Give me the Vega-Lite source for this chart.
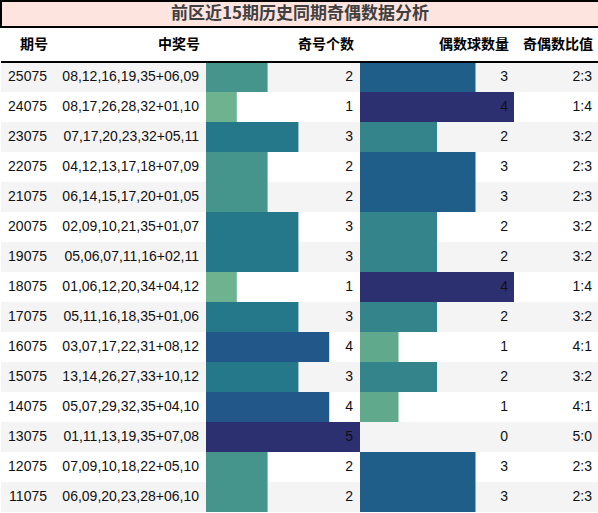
{
  "$schema": "https://vega.github.io/schema/vega-lite/v6.json",
  "padding": 0,
  "spacing": 10,
  "config": {
    "view": {"stroke": null},
    "font": "Liberation Sans, Noto Sans CJK SC, sans-serif",
    "title": {"font": "Noto Sans CJK SC, sans-serif", "fontSize": 14, "fontWeight": "bold", "color": "#000000", "anchor": "end", "offset": 9},
    "concat": {"spacing": 0}
  },
  "vconcat": [
    {
      "width": 598,
      "height": 26,
      "data": {"values": [{"title": "前区近15期历史同期奇偶数据分析"}]},
      "layer": [
        {"mark": {"type": "rect", "fill": "#fde4df", "stroke": "#000000", "strokeWidth": 2}, "encoding": {}},
        {"mark": {"type": "text", "fontSize": 17, "fontWeight": "bold", "color": "#404040", "font": "Noto Sans CJK SC, sans-serif", "baseline": "middle"}, "encoding": {"text": {"field": "title"}}}
      ]
    },
    {
      "data": {"values": [
        {"period": "25075", "nums": "08,12,16,19,35+06,09", "odd": 2, "even": 3, "ratio": "2:3"},
        {"period": "24075", "nums": "08,17,26,28,32+01,10", "odd": 1, "even": 4, "ratio": "1:4"},
        {"period": "23075", "nums": "07,17,20,23,32+05,11", "odd": 3, "even": 2, "ratio": "3:2"},
        {"period": "22075", "nums": "04,12,13,17,18+07,09", "odd": 2, "even": 3, "ratio": "2:3"},
        {"period": "21075", "nums": "06,14,15,17,20+01,05", "odd": 2, "even": 3, "ratio": "2:3"},
        {"period": "20075", "nums": "02,09,10,21,35+01,07", "odd": 3, "even": 2, "ratio": "3:2"},
        {"period": "19075", "nums": "05,06,07,11,16+02,11", "odd": 3, "even": 2, "ratio": "3:2"},
        {"period": "18075", "nums": "01,06,12,20,34+04,12", "odd": 1, "even": 4, "ratio": "1:4"},
        {"period": "17075", "nums": "05,11,16,18,35+01,06", "odd": 3, "even": 2, "ratio": "3:2"},
        {"period": "16075", "nums": "03,07,17,22,31+08,12", "odd": 4, "even": 1, "ratio": "4:1"},
        {"period": "15075", "nums": "13,14,26,27,33+10,12", "odd": 3, "even": 2, "ratio": "3:2"},
        {"period": "14075", "nums": "05,07,29,32,35+04,10", "odd": 4, "even": 1, "ratio": "4:1"},
        {"period": "13075", "nums": "01,11,13,19,35+07,08", "odd": 5, "even": 0, "ratio": "5:0"},
        {"period": "12075", "nums": "07,09,10,18,22+05,10", "odd": 2, "even": 3, "ratio": "2:3"},
        {"period": "11075", "nums": "06,09,20,23,28+06,10", "odd": 2, "even": 3, "ratio": "2:3"}
      ]},
      "transform": [{"window": [{"op": "row_number", "as": "idx"}]}],
      "spacing": 0,
      "bounds": "flush",
      "resolve": {"scale": {"color": "independent", "x": "independent", "y": "independent"}},
      "hconcat": [
        {
          "width": 50, "height": 450,
          "title": {"text": "期号", "dx": -4},
          "layer": [
            {"mark": "rect", "encoding": {"y": {"field": "period", "type": "nominal", "sort": null, "axis": null, "scale": {"paddingInner": 0, "paddingOuter": 0}}, "fill": {"condition": {"test": "datum.idx % 2 == 1", "value": "#f4f4f4"}, "value": "#ffffff"}}},
            {"mark": {"type": "rule", "color": "#000000", "strokeWidth": 2}, "encoding": {"y": {"value": 0}}},
            {"mark": {"type": "text", "align": "right", "dx": -4, "fontSize": 14, "color": "#111111"}, "encoding": {"y": {"field": "period", "type": "nominal", "sort": null, "axis": null}, "x": {"value": "width"}, "text": {"field": "period"}}}
          ]
        },
        {
          "width": 155, "height": 450,
          "title": {"text": "中奖号", "dx": -7},
          "layer": [
            {"mark": "rect", "encoding": {"y": {"field": "period", "type": "nominal", "sort": null, "axis": null, "scale": {"paddingInner": 0, "paddingOuter": 0}}, "fill": {"condition": {"test": "datum.idx % 2 == 1", "value": "#f4f4f4"}, "value": "#ffffff"}}},
            {"mark": {"type": "rule", "color": "#000000", "strokeWidth": 2}, "encoding": {"y": {"value": 0}}},
            {"mark": {"type": "text", "align": "right", "dx": -7, "fontSize": 14, "color": "#111111"}, "encoding": {"y": {"field": "period", "type": "nominal", "sort": null, "axis": null}, "x": {"value": "width"}, "text": {"field": "nums"}}}
          ]
        },
        {
          "width": 154, "height": 450,
          "title": {"text": "奇号个数", "dx": -7},
          "layer": [
            {"mark": "rect", "encoding": {"y": {"field": "period", "type": "nominal", "sort": null, "axis": null, "scale": {"paddingInner": 0, "paddingOuter": 0}}, "fill": {"condition": {"test": "datum.idx % 2 == 1", "value": "#f4f4f4"}, "value": "#ffffff"}}},
            {"mark": "bar", "encoding": {"y": {"field": "period", "type": "nominal", "sort": null, "axis": null}, "x": {"field": "odd", "type": "quantitative", "scale": {"domain": [0, 5], "nice": false}, "axis": null}, "color": {"field": "odd", "type": "ordinal", "scale": {"domain": [1, 2, 3, 4, 5], "range": ["#6eb390", "#46958c", "#25778a", "#22578a", "#2c3071"]}, "legend": null}}},
            {"mark": {"type": "rule", "color": "#000000", "strokeWidth": 2}, "encoding": {"y": {"value": 0}}},
            {"mark": {"type": "text", "align": "right", "dx": -7, "fontSize": 14, "color": "#111111"}, "encoding": {"y": {"field": "period", "type": "nominal", "sort": null, "axis": null}, "x": {"value": "width"}, "text": {"field": "odd"}}}
          ]
        },
        {
          "width": 154, "height": 450,
          "title": {"text": "偶数球数量", "dx": -6},
          "layer": [
            {"mark": "rect", "encoding": {"y": {"field": "period", "type": "nominal", "sort": null, "axis": null, "scale": {"paddingInner": 0, "paddingOuter": 0}}, "fill": {"condition": {"test": "datum.idx % 2 == 1", "value": "#f4f4f4"}, "value": "#ffffff"}}},
            {"mark": "bar", "encoding": {"y": {"field": "period", "type": "nominal", "sort": null, "axis": null}, "x": {"field": "even", "type": "quantitative", "scale": {"domain": [0, 4], "nice": false}, "axis": null}, "color": {"field": "even", "type": "ordinal", "scale": {"domain": [0, 1, 2, 3, 4], "range": ["#ffffff", "#60a98c", "#34858b", "#1f5e88", "#2c3071"]}, "legend": null}}},
            {"mark": {"type": "rule", "color": "#000000", "strokeWidth": 2}, "encoding": {"y": {"value": 0}}},
            {"mark": {"type": "text", "align": "right", "dx": -6, "fontSize": 14, "color": "#111111"}, "encoding": {"y": {"field": "period", "type": "nominal", "sort": null, "axis": null}, "x": {"value": "width"}, "text": {"field": "even"}}}
          ]
        },
        {
          "width": 85, "height": 450,
          "title": {"text": "奇偶数比值", "dx": -7},
          "layer": [
            {"mark": "rect", "encoding": {"y": {"field": "period", "type": "nominal", "sort": null, "axis": null, "scale": {"paddingInner": 0, "paddingOuter": 0}}, "fill": {"condition": {"test": "datum.idx % 2 == 1", "value": "#f4f4f4"}, "value": "#ffffff"}}},
            {"mark": {"type": "rule", "color": "#000000", "strokeWidth": 2}, "encoding": {"y": {"value": 0}}},
            {"mark": {"type": "text", "align": "right", "dx": -7, "fontSize": 14, "color": "#111111"}, "encoding": {"y": {"field": "period", "type": "nominal", "sort": null, "axis": null}, "x": {"value": "width"}, "text": {"field": "ratio"}}}
          ]
        }
      ]
    }
  ]
}
